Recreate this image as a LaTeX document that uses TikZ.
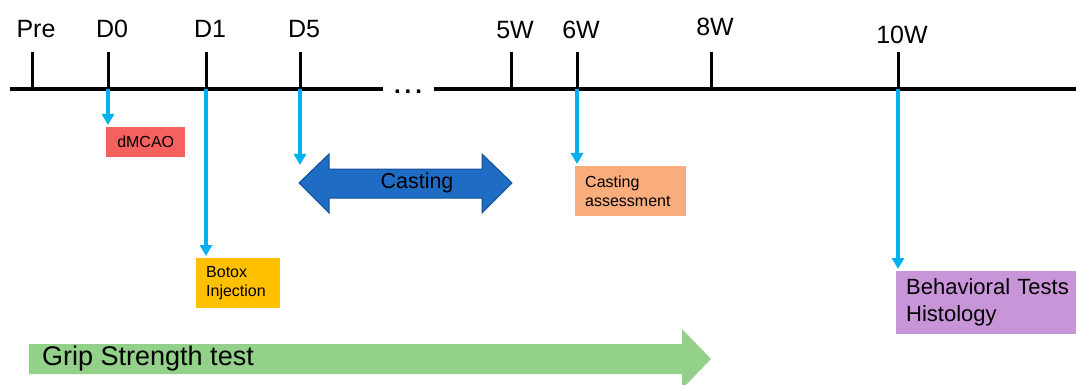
\documentclass[tikz,border=0pt]{standalone}
\usepackage{fontspec}
\setmainfont{Liberation Sans}
\usetikzlibrary{arrows.meta,calc}

\definecolor{evtblue}{RGB}{0,176,240}
\definecolor{mcaored}{RGB}{245,98,94}
\definecolor{botoxgold}{RGB}{255,192,0}
\definecolor{assesspeach}{RGB}{249,173,125}
\definecolor{castblue}{RGB}{31,108,196}
\definecolor{castedge}{RGB}{20,78,150}
\definecolor{behavlilac}{RGB}{201,149,217}
\definecolor{gripgreen}{RGB}{147,208,138}

\tikzset{
  axisline/.style={line width=3.5pt, black},
  tickline/.style={line width=3pt, black},
  ticklbl/.style={font=\fontsize{25}{29}\selectfont, inner sep=0pt},
  evt/.style={line width=3.5pt, evtblue, -{Triangle[length=11pt,width=12pt]}, shorten >=2pt},
  smallbox/.style={anchor=north west, inner ysep=0pt, inner xsep=10pt,
    font=\fontsize{16}{19}\selectfont, align=left},
  bigtxt/.style={font=\fontsize{22}{27}\selectfont}
}

\begin{document}
\begin{tikzpicture}[x=1pt,y=-1pt]
  \clip (0,0) rectangle (1076,385);

  % time axis
  \coordinate (axA) at (10,89);
  \coordinate (axB) at (383,89);
  \coordinate (axC) at (434,89);
  \coordinate (axD) at (1090,89);
  \draw[axisline] (axA) -- (axB);
  \node[font=\fontsize{24}{28}\selectfont\bfseries, anchor=base, inner sep=0pt]
    (gap) at (408,94) {.\hspace{4pt}.\hspace{4pt}.};
  \draw[axisline, -{Latex[length=12pt,width=12pt]}] (axC) -- (axD);

  % ticks and their labels
  \foreach \nm/\px/\txt/\by in {pre/32/Pre/38, d0/108/D0/38, d1/206/D1/38,
      d5/300/D5/38, 5w/511/5W/39, 6w/577/6W/39, 8w/711/8W/36, 10w/898/10W/44} {
    \coordinate (t\nm) at (\px,89);
    \coordinate (u\nm) at (\px,52);
    \draw[tickline] (u\nm) -- (t\nm);
    \node[ticklbl, anchor=base] (l\nm) at (\px+4,\by) {\txt};
  }

  % events
  \node[smallbox, fill=mcaored, minimum width=79pt, minimum height=30pt,
    align=center, font=\fontsize{16}{19}\selectfont] (dmcao) at (106,127) {dMCAO};
  \node[smallbox, fill=botoxgold, minimum width=84pt, minimum height=50pt,
    text width=64pt] (botox) at (196,258) {Botox\\Injection};
  \node[smallbox, fill=assesspeach, minimum width=111pt, minimum height=50pt,
    text width=91pt] (assess) at (575,166) {Casting\\assessment};
  \node[smallbox, bigtxt, fill=behavlilac, minimum width=190pt, minimum height=63pt,
    text width=170pt] (behav) at (896,271) {Behavioral Tests\\Histology};

  % casting period
  \draw[castedge, line width=1pt, fill=castblue]
    (299,183) -- (329,154) -- (329,169) -- (482,169) -- (482,154) -- (512,183)
    -- (482,213) -- (482,198) -- (329,198) -- (329,213) -- cycle;
  \node[font=\fontsize{21.5}{25}\selectfont] (casting) at (417,183) {Casting};
  \coordinate (castin) at (300,167);

  \draw[evt] (td0) -- (td0 |- dmcao.north);
  \draw[evt] (td1) -- (td1 |- botox.north);
  \draw[evt] (td5) -- (castin);
  \draw[evt] (t6w) -- (t6w |- assess.north);
  \draw[evt] (t10w) -- (t10w |- behav.north);

  % grip strength
  \fill[gripgreen] (29,344) -- (682,344) -- (682,329) -- (711,359) -- (682,389)
    -- (682,374) -- (29,374) -- cycle;
  \node[font=\fontsize{27}{31}\selectfont, anchor=west, inner sep=0pt] (grip)
    at (42,359) {Grip Strength test};
\end{tikzpicture}
\end{document}
